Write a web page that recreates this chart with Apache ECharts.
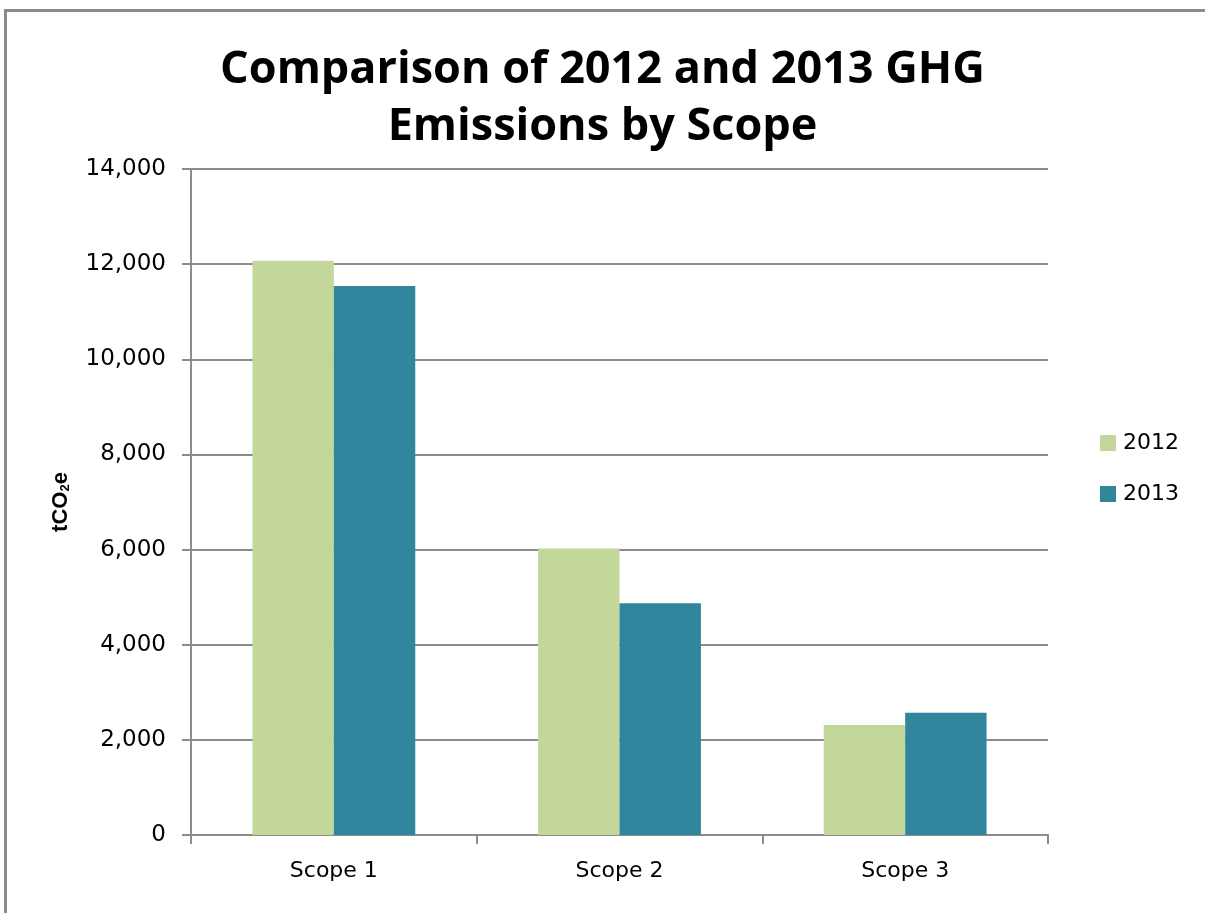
<!DOCTYPE html>
<html>
<head>
<meta charset="utf-8">
<script src="https://cdn.jsdelivr.net/npm/echarts@6/dist/echarts.min.js"></script>
<style>
  html, body { margin: 0; padding: 0; background: #fff; }
  #wrap { position: relative; width: 1205px; height: 913px; }
  /* chart frame: only the left and top edges show in the picture */
  #frame {
    position: absolute; left: 4px; top: 9px; right: 0; bottom: 0;
    border-left: 3px solid #8c8c8c; border-top: 3px solid #8c8c8c;
    pointer-events: none;
  }
  #chart { width: 1205px; height: 913px; }
</style>
</head>
<body>
<div id="wrap">
  <div id="chart"></div>
  <div id="frame"></div>
</div>
<script>
// data
const scopes = ['Scope 1', 'Scope 2', 'Scope 3'];
const years = ['2012', '2013'];
const emis2012 = [12070, 6020, 2310];
const emis2013 = [11540, 4870, 2570];
const yTicks = { min: 0, max: 14000, interval: 2000 };

const colors = ['#c4d79b', '#31859c'];
const gray = '#8c8c8c';
const labelFont = 'Tahoma, "DejaVu Sans", sans-serif';

const chart = echarts.init(document.getElementById('chart'), null, { renderer: 'canvas' });

const option = {
  animation: false,
  backgroundColor: '#fff',
  title: {
    text: 'Comparison of 2012 and 2013 GHG\nEmissions by Scope',
    left: 'center',
    top: 37,
    textStyle: {
      fontFamily: '"Open Sans", sans-serif',
      fontWeight: 'bold',
      fontSize: 45,
      lineHeight: 57,
      color: '#000'
    }
  },
  legend: {
    orient: 'vertical',
    left: 1095,
    top: 427,
    itemWidth: 16,
    itemHeight: 16,
    itemGap: 29,
    icon: 'rect',
    data: years,
    textStyle: { fontFamily: labelFont, fontSize: 22, color: '#000', padding: [0, 0, 0, 2] }
  },
  grid: { left: 191, right: 157, top: 169, bottom: 78 },
  xAxis: {
    type: 'category',
    data: scopes,
    axisLine: { lineStyle: { color: gray, width: 2 } },
    axisTick: { show: true, length: 9, lineStyle: { color: gray, width: 2 } },
    axisLabel: { margin: 25, fontFamily: labelFont, fontSize: 22, color: '#000' }
  },
  yAxis: {
    type: 'value',
    min: yTicks.min,
    max: yTicks.max,
    interval: yTicks.interval,
    name: 'tCO{sub|2}e',
    nameLocation: 'middle',
    nameRotate: 90,
    nameGap: 119,
    nameTextStyle: {
      fontFamily: 'Arial, "Liberation Sans", sans-serif',
      fontWeight: 'bold',
      fontSize: 22,
      color: '#000',
      rich: {
        sub: {
          fontFamily: 'Arial, "Liberation Sans", sans-serif',
          fontWeight: 'bold',
          fontSize: 13,
          verticalAlign: 'bottom',
          padding: [10, 0, 0, 0],
          color: '#000'
        }
      }
    },
    axisLine: { show: true, lineStyle: { color: gray, width: 2 } },
    axisTick: { show: true, length: 9, lineStyle: { color: gray, width: 2 } },
    splitLine: { lineStyle: { color: gray, width: 2 } },
    axisLabel: {
      margin: 25,
      fontFamily: labelFont,
      fontSize: 23,
      color: '#000',
      formatter: v => v.toLocaleString('en-US')
    }
  },
  series: [
    {
      name: years[0],
      type: 'bar',
      data: emis2012,
      barGap: '0%',
      barCategoryGap: '43%',
      itemStyle: { color: colors[0] }
    },
    {
      name: years[1],
      type: 'bar',
      data: emis2013,
      barGap: '0%',
      barCategoryGap: '43%',
      itemStyle: { color: colors[1] }
    }
  ]
};

chart.setOption(option);
</script>
</body>
</html>
